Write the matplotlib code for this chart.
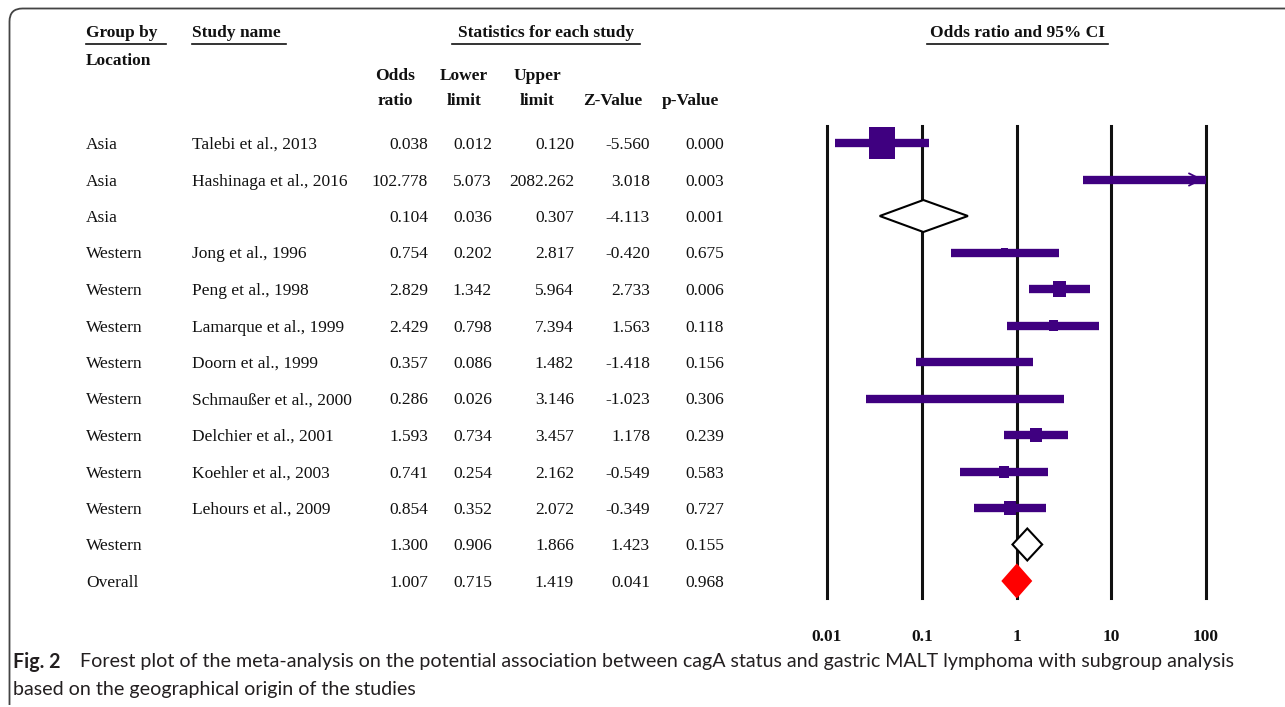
import numpy as np
import matplotlib
matplotlib.use('Agg')
import matplotlib.pyplot as plt
from matplotlib.patches import Rectangle, Polygon
from matplotlib.path import Path
from matplotlib.patches import PathPatch

# data
groups = ['Asia', 'Asia', 'Asia', 'Western', 'Western', 'Western', 'Western',
          'Western', 'Western', 'Western', 'Western', 'Western', 'Overall']
studies = ['Talebi et al., 2013', 'Hashinaga et al., 2016', '',
           'Jong et al., 1996', 'Peng et al., 1998', 'Lamarque et al., 1999',
           'Doorn et al., 1999', 'Schmaußer et al., 2000', 'Delchier et al., 2001',
           'Koehler et al., 2003', 'Lehours et al., 2009', '', '']
odds = [0.038, 102.778, 0.104, 0.754, 2.829, 2.429, 0.357, 0.286, 1.593,
        0.741, 0.854, 1.300, 1.007]
lower = [0.012, 5.073, 0.036, 0.202, 1.342, 0.798, 0.086, 0.026, 0.734,
         0.254, 0.352, 0.906, 0.715]
upper = [0.120, 2082.262, 0.307, 2.817, 5.964, 7.394, 1.482, 3.146, 3.457,
         2.162, 2.072, 1.866, 1.419]
zval = [-5.560, 3.018, -4.113, -0.420, 2.733, 1.563, -1.418, -1.023, 1.178,
        -0.549, -0.349, 1.423, 0.041]
pval = [0.000, 0.003, 0.001, 0.675, 0.006, 0.118, 0.156, 0.306, 0.239,
        0.583, 0.727, 0.155, 0.968]
# square size (relative weight) of each study, 0 for summary rows
weight = [26, 0, 0, 7, 13, 9, 7, 0, 12, 10, 12, 0, 0]
summary = ['', '', 'white', '', '', '', '', '', '', '', '', 'white', 'red']
ticks = [0.01, 0.1, 1, 10, 100]
tick_labels = ['0.01', '0.1', '1', '10', '100']

W, H = 1285, 707
PURPLE = '#3f0080'
SERIF = 'Liberation Serif'
ROW0, DROW = 143, 36.5

fig = plt.figure(figsize=(W / 100, H / 100), dpi=100)

# full-figure axes in pixel units for the table and frame
tab = fig.add_axes([0, 0, 1, 1])
tab.set_xlim(0, W)
tab.set_ylim(H, 0)
tab.axis('off')

# frame with rounded top-left corner
r = 13
verts = [(W, 8.5), (9.5 + r, 8.5), (9.5, 8.5), (9.5, 8.5 + r), (9.5, 705)]
codes = [Path.MOVETO, Path.LINETO, Path.CURVE3, Path.CURVE3, Path.LINETO]
tab.add_patch(PathPatch(Path(verts, codes), fill=False, ec='#444444', lw=1.3))

hdr = dict(fontfamily=SERIF, fontweight='bold', fontsize=12.5, color='#111111')
tab.text(86, 33, 'Group by', ha='left', va='center', **hdr)
tab.plot([86, 166], [44, 44], color='#111111', lw=1.2)
tab.text(192, 33, 'Study name', ha='left', va='center', **hdr)
tab.plot([192, 286], [44, 44], color='#111111', lw=1.2)
tab.text(546, 33, 'Statistics for each study', ha='center', va='center', **hdr)
tab.plot([452, 640], [44, 44], color='#111111', lw=1.2)
tab.text(1017, 33, 'Odds ratio and 95% CI', ha='center', va='center', **hdr)
tab.plot([927, 1108], [44, 44], color='#111111', lw=1.2)
tab.text(86, 61, 'Location', ha='left', va='center', **hdr)
tab.text(395, 76, 'Odds', ha='center', va='center', **hdr)
tab.text(395, 101, 'ratio', ha='center', va='center', **hdr)
tab.text(464, 76, 'Lower', ha='center', va='center', **hdr)
tab.text(464, 101, 'limit', ha='center', va='center', **hdr)
tab.text(537, 76, 'Upper', ha='center', va='center', **hdr)
tab.text(537, 101, 'limit', ha='center', va='center', **hdr)
tab.text(613, 101, 'Z-Value', ha='center', va='center', **hdr)
tab.text(690, 101, 'p-Value', ha='center', va='center', **hdr)

body = dict(fontfamily=SERIF, fontsize=12.5, color='#111111', va='center')
for i in range(len(groups)):
    y = ROW0 + 2 + DROW * i
    tab.text(86, y, groups[i], ha='left', **body)
    tab.text(192, y, studies[i], ha='left', **body)
    tab.text(428, y, f'{odds[i]:.3f}', ha='right', **body)
    tab.text(492, y, f'{lower[i]:.3f}', ha='right', **body)
    tab.text(574, y, f'{upper[i]:.3f}', ha='right', **body)
    tab.text(650, y, f'{zval[i]:.3f}', ha='right', **body)
    tab.text(724, y, f'{pval[i]:.3f}', ha='right', **body)

# caption
cap = dict(fontfamily='Lato', fontsize=14.1, color='#231f20', va='center')
tab.text(13, 662, 'Fig. 2', ha='left', fontweight='bold', **cap)
tab.text(80, 662, 'Forest plot of the meta-analysis on the potential association '
         'between cagA status and gastric MALT lymphoma with subgroup analysis',
         ha='left', **cap)
tab.text(13, 690, 'based on the geographical origin of the studies', ha='left', **cap)

# forest plot axes: x on a log scale, y in row units
n = len(groups)
y_top = (126 - ROW0) / DROW
y_bot = (598 - ROW0) / DROW
ax = fig.add_axes([827 / W, 1 - 598 / H, (1206 - 827) / W, (598 - 126) / H])
ax.set_xscale('log')
ax.set_xlim(ticks[0], ticks[-1])
ax.set_ylim(y_bot, y_top)
ax.axis('off')
ax.patch.set_alpha(0)

for t in ticks:
    ax.axvline(t, color='#111111', lw=2.2, zorder=1, clip_on=False)

# pixel -> data helpers for marker sizes
px_x = np.log10(ticks[-1] / ticks[0]) / (1206 - 827)
px_y = (y_bot - y_top) / (598 - 126)

for i in range(n):
    lo, hi, o = lower[i], upper[i], odds[i]
    if summary[i]:
        half = 16 * px_y
        poly = Polygon([(lo, i), (o, i - half), (hi, i), (o, i + half)],
                       closed=True, fc=summary[i],
                       ec='black' if summary[i] == 'white' else 'red',
                       lw=1.5, zorder=3)
        ax.add_patch(poly)
        continue
    hi_c = min(hi, ticks[-1])
    ax.plot([lo, hi_c], [i, i], color=PURPLE, lw=6, solid_capstyle='butt', zorder=2)
    if hi > ticks[-1]:
        ax.annotate('', xy=(hi_c, i), xytext=(hi_c / 1.35, i),
                    arrowprops=dict(arrowstyle='->', color=PURPLE, lw=1.3,
                                    mutation_scale=22), zorder=2)
    w = weight[i]
    if w > 0 and ticks[0] <= o <= ticks[-1]:
        lw_ = w / 2 * px_x
        hh = w * 1.2 / 2 * px_y
        ax.add_patch(Rectangle((o / 10 ** lw_, i - hh), o * 10 ** lw_ - o / 10 ** lw_,
                               2 * hh, fc=PURPLE, ec='none', zorder=3))

for t, lab in zip(ticks, tick_labels):
    ax.text(t, (637 - ROW0) / DROW, lab, ha='center', va='center',
            fontfamily=SERIF, fontweight='bold', fontsize=12.5, color='#111111',
            clip_on=False)

fig.savefig('out.png', dpi=100)
